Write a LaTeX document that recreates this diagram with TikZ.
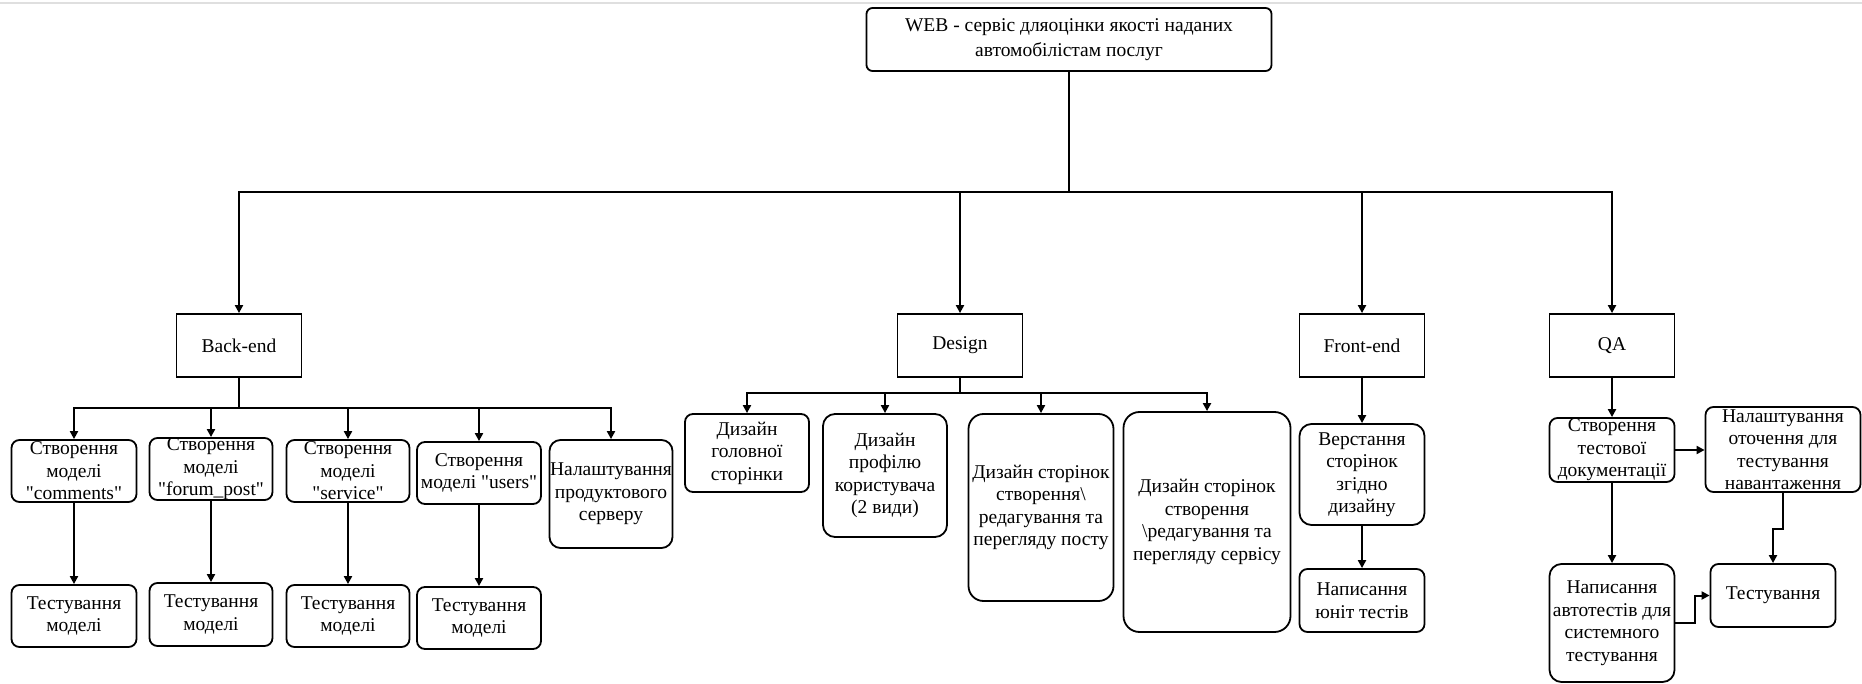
\documentclass[tikz,border=0pt]{standalone}
\usepackage{fontspec}
\setmainfont{Liberation Serif}[Ligatures=TeXOff]
\usetikzlibrary{arrows.meta}

\begin{document}
\begin{tikzpicture}[x=1pt,y=-1pt,
  every node/.style={font=\fontsize{19.5}{22.5}\selectfont, align=center, inner sep=0pt},
  task/.style n args={2}{draw, line width=1.8pt, rounded corners=8pt, minimum width=#1pt, minimum height=#2pt},
  group/.style={draw, line width=1.8pt, minimum width=125pt, minimum height=63pt},
  link/.style={line width=2pt},
  arr/.style={line width=2pt, -{Triangle[length=8pt,width=8pt]}}]
\useasboundingbox (0,0) rectangle (1862,684);
% Draw the thin grey strip at the top
\draw[gray!25, line width=2pt] (0,3) -- (1862,3);
% Draw the root node
\node[task={405}{63}, rounded corners=6pt, font=\fontsize{19.5}{25}\selectfont] (root) at (1069,39.5) {WEB - сервіс дляоцінки якості наданих\\автомобілістам послуг};
% Draw the four groups
\node[group] (back) at (239,345.5) {Back-end};
\node[group] (design) at (960,345.5) {Design};
\node[group] (front) at (1362,345.5) {Front-end};
\node[group] (qa) at (1612,345.5) {QA};
% Draw the Back-end tasks
\node[task={125}{62}] (bc1) at (74,471) {Створення\\моделі\\"comments"};
\node[task={123}{62}] (bc2) at (211,469) {Створення\\моделі\\"forum\_post"};
\node[task={123}{62}] (bc3) at (348,471) {Створення\\моделі\\"service"};
\node[task={124}{62}] (bc4) at (479,473) {Створення\\моделі "users"};
\node[task={123}{108}, rounded corners=11pt] (bc5) at (611,494) {Налаштування\\продуктового\\серверу};
\node[task={125}{62}] (bt1) at (74,616) {Тестування\\моделі};
\node[task={123}{63}] (bt2) at (211,614.5) {Тестування\\моделі};
\node[task={123}{62}] (bt3) at (348,616) {Тестування\\моделі};
\node[task={124}{62}] (bt4) at (479,618) {Тестування\\моделі};
% Draw the Design tasks
\node[task={124}{78}] (d1) at (747,453) {Дизайн\\головної\\сторінки};
\node[task={124}{123}, rounded corners=12pt] (d2) at (885,475.5) {Дизайн\\профілю\\користувача\\(2 види)};
\node[task={145}{187}, rounded corners=15pt] (d3) at (1041,507.5) {Дизайн сторінок\\створення\textbackslash\\редагування та\\перегляду посту};
\node[task={167}{220}, rounded corners=16pt] (d4) at (1207,522) {Дизайн сторінок\\створення\\\textbackslash редагування та\\перегляду сервісу};
% Draw the Front-end tasks
\node[task={125}{101}, rounded corners=12pt] (f1) at (1362,474.5) {Верстання\\сторінок\\згідно\\дизайну};
\node[task={125}{63}] (f2) at (1362,600.5) {Написання\\юніт тестів};
% Draw the QA tasks
\node[task={125}{64}] (q1) at (1612,450) {Створення\\тестової\\документації};
\node[task={155}{85}] (q2) at (1783,449.5) {Налаштування\\оточення для\\тестування\\навантаження};
\node[task={125}{118}, rounded corners=12pt] (q3) at (1612,623) {Написання\\автотестів для\\системного\\тестування};
\node[task={125}{63}] (q4) at (1773,595.5) {Тестування};
% Draw the bus lines
\coordinate (topbus) at (0,192);
\coordinate (backbus) at (0,408);
\coordinate (designbus) at (0,393);
\draw[link] (root.south) -- (root.south |- topbus);
\foreach \g in {back,design,front,qa}
  \draw[arr] (root.south |- topbus) -| (\g.north);
\draw[link] (back.south) -- (back.south |- backbus);
\foreach \t in {bc1,bc2,bc3,bc4,bc5}
  \draw[arr] (back.south |- backbus) -| (\t.north);
\foreach \t in {1,2,3,4}
  \draw[arr] (bc\t.south) -- (bt\t.north);
\draw[link] (design.south) -- (design.south |- designbus);
\foreach \t in {d1,d2,d3,d4}
  \draw[arr] (design.south |- designbus) -| (\t.north);
% Draw the Front-end and QA arrows
\draw[arr] (front.south) -- (f1.north);
\draw[arr] (f1.south) -- (f2.north);
\draw[arr] (qa.south) -- (q1.north);
\draw[arr] (q1.south) -- (q3.north);
\draw[arr] (q1.east) -- (q1.east -| q2.west);
\draw[arr] (q2.south) -- ++(0,36) -| (q4.north);
\draw[arr] (q3.east) -- ++(20,0) |- (q4.west);
\end{tikzpicture}
\end{document}
